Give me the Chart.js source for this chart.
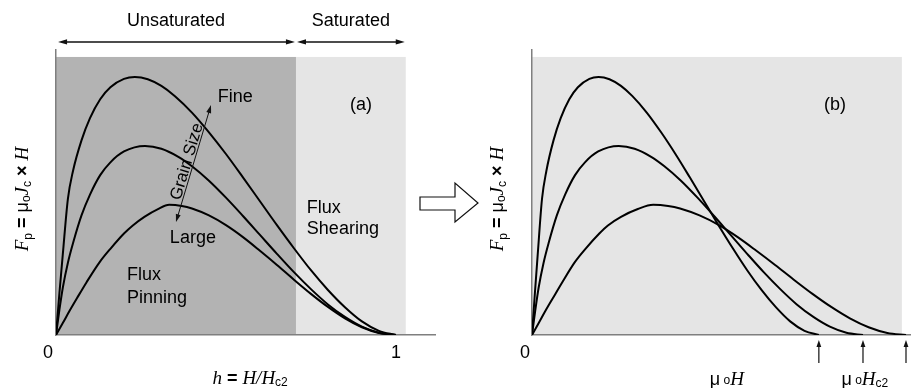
<!DOCTYPE html>
<html><head><meta charset="utf-8">
<script src="https://cdn.jsdelivr.net/npm/chart.js@4.4.0/dist/chart.umd.min.js"></script>
<style>
html,body{margin:0;padding:0;background:#fff;}
#wrap{position:relative;width:917px;height:388px;overflow:hidden;}
canvas{position:absolute;left:0;top:0;}
</style></head><body>
<div id="wrap"><canvas id="ca" width="917" height="388"></canvas><canvas id="cb" width="917" height="388"></canvas></div>
<script>
// ---- data ----
// panel (a): h = H/Hc2
const fineH_a  = [0,0.01,0.02,0.035,0.05,0.075,0.1,0.13,0.16,0.2,0.232,0.27,0.31,0.35,0.4,0.45,0.5,0.55,0.6,0.65,0.7,0.75,0.8,0.85,0.9,0.95,1.0];
const fineF    = [0,0.15,0.29,0.49,0.59,0.70,0.78,0.848,0.891,0.921,0.928,0.920,0.896,0.859,0.800,0.729,0.651,0.567,0.481,0.395,0.312,0.233,0.162,0.100,0.049,0.015,0];
const midH_a   = [0,0.01,0.02,0.035,0.05,0.075,0.1,0.13,0.16,0.2,0.262,0.31,0.36,0.4,0.45,0.5,0.55,0.6,0.65,0.7,0.75,0.8,0.85,0.9,0.95,1.0];
const midF     = [0,0.09,0.17,0.26,0.33,0.43,0.505,0.575,0.621,0.660,0.680,0.670,0.641,0.607,0.555,0.494,0.428,0.360,0.292,0.226,0.165,0.110,0.065,0.030,0.008,0];
const largeH_a = [0,0.02,0.04,0.062,0.09,0.129,0.16,0.2,0.226,0.26,0.3,0.333,0.37,0.4,0.45,0.5,0.55,0.6,0.65,0.7,0.75,0.8,0.85,0.9,0.95,1.0];
const largeF   = [0,0.043,0.087,0.133,0.19,0.263,0.31,0.365,0.394,0.425,0.453,0.468,0.464,0.455,0.430,0.395,0.352,0.303,0.252,0.199,0.148,0.101,0.060,0.028,0.0075,0];
// panel (b): mu0 H (largest Hc2 = 1)
const fineH_b  = [0,0.0077,0.0153,0.0268,0.0384,0.0575,0.0767,0.0997,0.1227,0.1534,0.178,0.2071,0.2378,0.2685,0.3068,0.3452,0.3835,0.4219,0.4602,0.4986,0.5369,0.5753,0.6136,0.652,0.6903,0.7287,0.767];
const midH_b   = [0,0.0089,0.0177,0.031,0.0443,0.0664,0.0885,0.1151,0.1416,0.177,0.2319,0.2744,0.3186,0.354,0.3983,0.4425,0.4868,0.531,0.5753,0.6195,0.6638,0.708,0.7523,0.7965,0.8408,0.885];
const largeH_b = [0,0.018,0.036,0.056,0.081,0.115,0.143,0.180,0.203,0.238,0.283,0.324,0.364,0.396,0.448,0.5,0.55,0.6,0.65,0.7,0.75,0.8,0.85,0.9,0.95,1.0];
const ticksA = [0, 1];
const satBoundary = 0.706;   // h where saturated region starts
const regionA = 1.029, regionB = 0.989;

// ---- styling ----
const S = "18px 'Liberation Sans', Arial, sans-serif";
const SB = "bold 18px 'Liberation Sans', Arial, sans-serif";
const SUB = "12px 'Liberation Sans', Arial, sans-serif";
const SI = "italic 19px 'Liberation Serif', 'Times New Roman', serif";
const AX = '#7f7f7f';

function pts(xs, ys){ return xs.map((x,i)=>({x:x, y:ys[i]})); }
function ds(xs, ys){ return {data:pts(xs,ys), showLine:true, borderColor:'#000', borderWidth:2, pointRadius:0, cubicInterpolationMode:'monotone', fill:false}; }

function rich(ctx, parts, x, y, align, rot){
  ctx.save(); ctx.translate(x,y); if(rot) ctx.rotate(rot);
  let w=0; parts.forEach(p=>{ctx.font=p.f; w+=ctx.measureText(p.t).width;});
  let cx = align==='center' ? -w/2 : (align==='right' ? -w : 0);
  ctx.textBaseline='alphabetic'; ctx.textAlign='left'; ctx.fillStyle='#000';
  parts.forEach(p=>{ctx.font=p.f; ctx.fillText(p.t, cx, p.dy||0); cx+=ctx.measureText(p.t).width;});
  ctx.restore();
}
function head(ctx, x, y, ang, len, hw){
  ctx.save(); ctx.translate(x,y); ctx.rotate(ang);
  ctx.beginPath(); ctx.moveTo(0,0); ctx.lineTo(-len,-hw); ctx.lineTo(-len,hw); ctx.closePath(); ctx.fill();
  ctx.restore();
}
function dblArrow(ctx, x1, y1, x2, y2, lw, len, hw){
  const a = Math.atan2(y2-y1, x2-x1);
  ctx.save(); ctx.strokeStyle='#111'; ctx.fillStyle='#111'; ctx.lineWidth=lw;
  ctx.beginPath();
  ctx.moveTo(x1+Math.cos(a)*len*0.8, y1+Math.sin(a)*len*0.8);
  ctx.lineTo(x2-Math.cos(a)*len*0.8, y2-Math.sin(a)*len*0.8); ctx.stroke();
  head(ctx, x2, y2, a, len, hw); head(ctx, x1, y1, a+Math.PI, len, hw);
  ctx.restore();
}
function text(ctx, t, x, y, align){ ctx.save(); ctx.font=S; ctx.fillStyle='#000'; ctx.textAlign=align||'left'; ctx.textBaseline='alphabetic'; ctx.fillText(t,x,y); ctx.restore(); }

const yTitle = [{t:'F',f:SI},{t:'p',f:SUB,dy:4},{t:' = ',f:SB},{t:'μ',f:S},{t:'o',f:SUB,dy:2},{t:'J',f:SI},{t:'c',f:SUB,dy:3},{t:' × ',f:SB},{t:'H',f:SI}];

function scalesCfg(xmax, yw){
  return {
    x:{type:'linear', min:0, max:xmax, grid:{display:false, drawTicks:false}, border:{display:true, color:AX, width:1.5}, ticks:{display:false}, afterFit:s=>{s.height=53;}},
    y:{type:'linear', min:0, max:1.025, grid:{display:false, drawTicks:false}, border:{display:true, color:AX, width:1.5}, ticks:{display:false}, afterFit:s=>{s.width=yw;}}
  };
}

const bgA = {id:'bgA', beforeDraw(c){
  const ctx=c.ctx, x=c.scales.x, y=c.scales.y;
  ctx.save();
  ctx.fillStyle='#b3b3b3'; ctx.fillRect(x.getPixelForValue(0), y.getPixelForValue(1), x.getPixelForValue(satBoundary)-x.getPixelForValue(0), y.getPixelForValue(0)-y.getPixelForValue(1));
  ctx.fillStyle='#e5e5e5'; ctx.fillRect(x.getPixelForValue(satBoundary), y.getPixelForValue(1), x.getPixelForValue(regionA)-x.getPixelForValue(satBoundary), y.getPixelForValue(0)-y.getPixelForValue(1));
  ctx.restore();
}, afterDraw(c){
  const ctx=c.ctx, X=v=>c.scales.x.getPixelForValue(v), Y=v=>c.scales.y.getPixelForValue(v);
  dblArrow(ctx, X(0.006), Y(1.054), X(0.703), Y(1.054), 1.5, 9, 2.6);
  dblArrow(ctx, X(0.709), Y(1.054), X(1.026), Y(1.054), 1.5, 9, 2.6);
  text(ctx, 'Unsaturated', X(satBoundary/2), 26, 'center');
  text(ctx, 'Saturated', (X(satBoundary)+X(regionA))/2, 26, 'center');
  text(ctx, '(a)', X(0.897), Y(0.809), 'center');
  text(ctx, 'Fine', X(0.476), Y(0.838));
  text(ctx, 'Large', X(0.335), Y(0.331));
  text(ctx, 'Flux', X(0.209), Y(0.198)); text(ctx, 'Pinning', X(0.209), Y(0.115));
  text(ctx, 'Flux', X(0.738), Y(0.439)); text(ctx, 'Shearing', X(0.738), Y(0.363));
  const gx1=X(0.353), gy1=Y(0.406), gx2=X(0.456), gy2=Y(0.827);
  dblArrow(ctx, gx1, gy1, gx2, gy2, 1, 8, 2.5);
  const ang=Math.atan2(gy2-gy1, gx2-gx1);
  const mx=(gx1+gx2)/2 + Math.sin(ang)*2, my=(gy1+gy2)/2 - Math.cos(ang)*2;
  ctx.save(); ctx.translate(mx,my); ctx.rotate(ang); ctx.font="17px 'Liberation Sans', Arial, sans-serif"; ctx.fillStyle='#000'; ctx.textAlign='center'; ctx.textBaseline='alphabetic'; ctx.fillText('Grain Size',0,0); ctx.restore();
  ticksA.forEach(v=>text(ctx, String(v), X(v) - (v===0?8:0), 358, 'center'));
  rich(ctx, [{t:'h',f:SI},{t:' = ',f:SB},{t:'H',f:SI},{t:'/',f:SI},{t:'H',f:SI},{t:'c2',f:SUB,dy:2}], X(0.571), 384, 'center');
  rich(ctx, yTitle, 28, Y(0.489), 'center', -Math.PI/2);
}};

const bgB = {id:'bgB', beforeDraw(c){
  const ctx=c.ctx, x=c.scales.x, y=c.scales.y;
  ctx.save(); ctx.fillStyle='#e5e5e5';
  ctx.fillRect(x.getPixelForValue(0), y.getPixelForValue(1), x.getPixelForValue(regionB)-x.getPixelForValue(0), y.getPixelForValue(0)-y.getPixelForValue(1));
  ctx.restore();
}, afterDraw(c){
  const ctx=c.ctx, X=v=>c.scales.x.getPixelForValue(v), Y=v=>c.scales.y.getPixelForValue(v);
  text(ctx, '(b)', X(0.81), Y(0.809), 'center');
  text(ctx, '0', X(0)-7, 358, 'center');
  [fineH_b, midH_b, largeH_b].forEach(a=>{
    const xv=X(a[a.length-1]);
    ctx.save(); ctx.strokeStyle='#111'; ctx.fillStyle='#111'; ctx.lineWidth=1.2;
    ctx.beginPath(); ctx.moveTo(xv, 363); ctx.lineTo(xv, 346); ctx.stroke();
    head(ctx, xv, 340, -Math.PI/2, 7, 2.4); ctx.restore();
  });
  rich(ctx, [{t:'μ',f:S},{t:' o',f:SUB,dy:-1},{t:'H',f:SI}], X(0.521), 385, 'center');
  rich(ctx, [{t:'μ',f:S},{t:' o',f:SUB,dy:-1},{t:'H',f:SI},{t:'c2',f:SUB,dy:2}], X(0.89), 385, 'center');
  rich(ctx, yTitle, 503, Y(0.489), 'center', -Math.PI/2);
  ctx.save(); ctx.beginPath();
  ctx.moveTo(420,197); ctx.lineTo(455,197); ctx.lineTo(455,183); ctx.lineTo(478,203);
  ctx.lineTo(455,222); ctx.lineTo(455,210); ctx.lineTo(420,210); ctx.closePath();
  ctx.fillStyle='#fff'; ctx.fill(); ctx.strokeStyle='#111'; ctx.lineWidth=1.2; ctx.stroke(); ctx.restore();
}};

const common = {responsive:false, animation:false, devicePixelRatio:1,
  plugins:{legend:{display:false}, tooltip:{enabled:false}, title:{display:false}}};

new Chart(document.getElementById('ca'), {
  type:'scatter',
  data:{datasets:[ds(fineH_a,fineF), ds(midH_a,midF), ds(largeH_a,largeF)]},
  options:Object.assign({}, common, {layout:{padding:{left:0, top:50, right:482, bottom:0}}, scales:scalesCfg(1.115, 56)}),
  plugins:[bgA]
});
new Chart(document.getElementById('cb'), {
  type:'scatter',
  data:{datasets:[ds(fineH_b,fineF), ds(midH_b,midF), ds(largeH_b,largeF)]},
  options:Object.assign({}, common, {layout:{padding:{left:460, top:50, right:7, bottom:0}}, scales:scalesCfg(1.0107, 72)}),
  plugins:[bgB]
});
</script>
</body></html>
